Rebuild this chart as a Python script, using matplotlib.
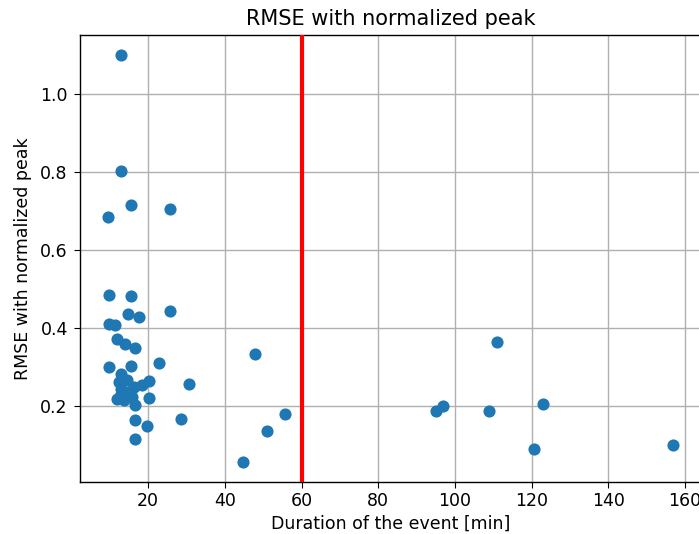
import numpy as np
import matplotlib
matplotlib.use("Agg")
import matplotlib.pyplot as plt

# event duration [min] and RMSE of the normalized-peak hydrograph
duration = [12.8, 12.8, 9.6, 15.6, 25.8,
             9.9, 15.6, 14.8, 17.7, 25.8,
             9.7, 11.4, 11.9, 13.9, 16.7,
             9.9, 15.6, 22.8, 30.7,
             12.8, 12.3, 14.5, 12.8, 16.2, 18.4, 20.2,
             11.9, 13.6, 15.8, 16.7, 20.2, 12.8, 14.9,
             16.7, 19.7, 16.7, 28.7,
             48.0, 55.8, 50.9, 44.8,
             110.9, 95.0, 97.0, 109.0, 123.0, 120.7, 156.8]
rmse = [1.100, 0.803, 0.685, 0.716, 0.705,
        0.486, 0.483, 0.437, 0.428, 0.445,
        0.410, 0.408, 0.372, 0.361, 0.349,
        0.301, 0.303, 0.311, 0.258,
        0.284, 0.263, 0.267, 0.245, 0.250, 0.254, 0.264,
        0.220, 0.215, 0.224, 0.203, 0.222, 0.232, 0.237,
        0.165, 0.149, 0.117, 0.167,
        0.335, 0.181, 0.136, 0.058,
        0.364, 0.187, 0.200, 0.187, 0.206, 0.091, 0.100]

threshold = 60

plt.rcParams.update({
    "font.size": 12.5,
    "axes.linewidth": 1.0,
    "xtick.major.size": 4.4,
    "ytick.major.size": 4.4,
    "xtick.major.pad": 3,
    "ytick.major.pad": 4.4,
})

fig = plt.figure(figsize=(6.99, 5.34), dpi=100)
ax = fig.add_axes([80 / 699, 52 / 534, 621 / 699, 447 / 534])

ax.scatter(duration, rmse, s=56, linewidths=1.25, color="#1f77b4", zorder=2)
ax.axvline(threshold, color="red", linewidth=3, zorder=3)

ax.grid(True, color="#b0b0b0", linewidth=1.0, zorder=0)
ax.set_axisbelow(True)
ax.set_yticks([0.2, 0.4, 0.6, 0.8, 1.0])

ax.set_title("RMSE with normalized peak", fontsize=15, pad=7)
ax.set_xlabel("Duration of the event [min]", labelpad=3)
ax.set_ylabel("RMSE with normalized peak", labelpad=6)

fig.savefig("out.png", dpi=100)
